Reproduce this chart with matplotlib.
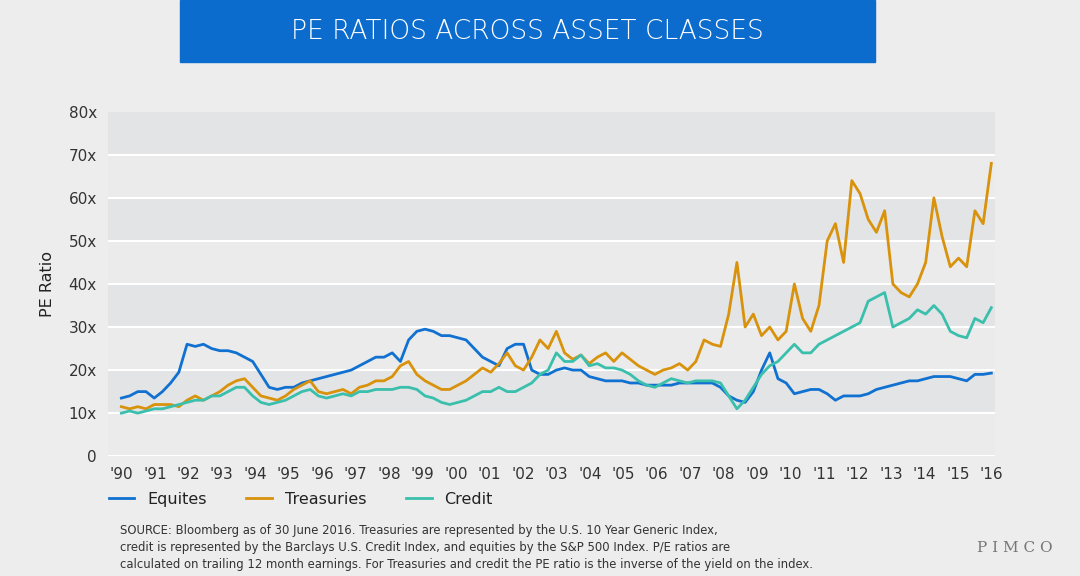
import matplotlib
matplotlib.use("Agg")
import matplotlib.pyplot as plt
import numpy as np

equities = [13.5,14,15,15, 13.5,15,17,19.5, 26,25.5,26,25, 24.5,24.5,24,23, 22,19,16,15.5,
            16,16,17,17.5, 18,18.5,19,19.5, 20,21,22,23, 23,24,22,27, 29,29.5,29,28,
            28,27.5,27,25, 23,22,21,25, 26,26,20,19, 19,20,20.5,20, 20,18.5,18,17.5,
            17.5,17.5,17,17, 16.5,16.5,16.5,16.5, 17,17,17,17, 17,16,14,13, 12.5,15,20,24,
            18,17,14.5,15, 15.5,15.5,14.5,13, 14,14,14,14.5, 15.5,16,16.5,17, 17.5,17.5,18,18.5,
            18.5,18.5,18,17.5, 19,19,19.3]
treasuries = [11.5,11,11.5,11, 12,12,12,11.5, 13,14,13,14, 15,16.5,17.5,18, 16,14,13.5,13,
              14,15.5,16.5,17.5, 15,14.5,15,15.5, 14.5,16,16.5,17.5, 17.5,18.5,21,22, 19,17.5,16.5,15.5,
              15.5,16.5,17.5,19, 20.5,19.5,21.5,24, 21,20,23,27, 25,29,24,22.5, 23.5,21.5,23,24,
              22,24,22.5,21, 20,19,20,20.5, 21.5,20,22,27, 26,25.5,33,45, 30,33,28,30,
              27,29,40,32, 29,35,50,54, 45,64,61,55, 52,57,40,38, 37,40,45,60,
              51,44,46,44, 57,54,68]
credit = [10,10.5,10,10.5, 11,11,11.5,12, 12.5,13,13,14, 14,15,16,16, 14,12.5,12,12.5,
          13,14,15,15.5, 14,13.5,14,14.5, 14,15,15,15.5, 15.5,15.5,16,16, 15.5,14,13.5,12.5,
          12,12.5,13,14, 15,15,16,15, 15,16,17,19, 20,24,22,22, 23.5,21,21.5,20.5,
          20.5,20,19,17.5, 16.5,16,17,18, 17.5,17,17.5,17.5, 17.5,17,14,11, 13,16,19,21,
          22,24,26,24, 24,26,27,28, 29,30,31,36, 37,38,30,31, 32,34,33,35,
          33,29,28,27.5, 32,31,34.5]
year_labels = ["'%02d" % (y % 100) for y in range(1990, 2017)]
series = [("Equites", equities, "#1071d0"), ("Treasuries", treasuries, "#d8920c"), ("Credit", credit, "#3bbfad")]

fig = plt.figure(figsize=(10.8, 5.76), dpi=100, facecolor="#ededed")
ax = fig.add_axes([0.1, 0.208, 0.821, 0.598])
ax.set_facecolor("#ebebec")
for lo in range(0, 80, 10):
    ax.axhspan(lo, lo + 10, color="#e3e4e5" if (lo // 10) % 2 == 1 else "#ebebec", lw=0, zorder=0)
    ax.axhline(lo, color="white", lw=1.5, zorder=1)
for name, vals, c in series:
    x = np.linspace(1990, 2016, len(vals))
    ax.plot(x, vals, color=c, lw=2, label=name, zorder=3)
ax.set_xlim(1989.6, 2016.1)
ax.set_ylim(0, 80)
ax.set_xticks(range(1990, 2017))
ax.set_xticklabels(year_labels)
ax.set_yticks(range(0, 81, 10))
ax.set_yticklabels(["0"] + ["%dx" % v for v in range(10, 81, 10)])
for s in ax.spines.values():
    s.set_visible(False)
ax.tick_params(length=0, labelsize=11, colors="#333333", pad=8)
ax.set_ylabel("PE Ratio", fontsize=11.5, color="#222222", labelpad=10)
ax.legend(loc="upper left", bbox_to_anchor=(-0.01, -0.075), ncol=3, frameon=False,
          fontsize=11.5, handlelength=1.6, columnspacing=2.5, labelcolor="#222222",
          borderaxespad=0.2)

fig.patches.append(plt.Rectangle((0.167, 0.892), 0.643, 0.108, transform=fig.transFigure,
                                 color="#0b6ccd", zorder=0))
fig.text(0.488, 0.946, "PE RATIOS ACROSS ASSET CLASSES", color="white", fontsize=19,
         ha="center", va="center", fontweight="light")
fig.text(0.111, 0.05, "SOURCE: Bloomberg as of 30 June 2016. Treasuries are represented by the U.S. 10 Year Generic Index,\n"
         "credit is represented by the Barclays U.S. Credit Index, and equities by the S&P 500 Index. P/E ratios are\n"
         "calculated on trailing 12 month earnings. For Treasuries and credit the PE ratio is the inverse of the yield on the index.",
         fontsize=8.4, color="#333333", va="center", linespacing=1.4)
fig.text(0.975, 0.048, "P I M C O", family="DejaVu Serif", fontsize=11, color="#777777", ha="right", va="center")
fig.savefig("out.png", dpi=100, facecolor=fig.get_facecolor())
